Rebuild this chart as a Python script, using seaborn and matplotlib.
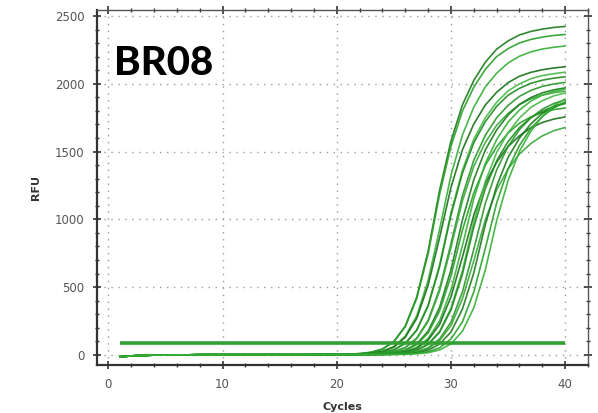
import numpy as np
import pandas as pd
import seaborn as sns
from matplotlib import pyplot as plt
from matplotlib.ticker import MultipleLocator

# cycles 1-19 look the same for every well (flat baseline)
early_cycles = list(range(1, 20))
late_cycles = list(range(20, 41))
baseline = [-14, -8, -4, -2, -1, 0, 0, 1, 1, 1, 1, 1, 1, 1, 1, 1, 1, 2, 2]

# RFU per well, cycles 20..40
rfu_a1 = [3, 5, 9, 19, 43, 99, 213, 426, 766, 1214, 1578, 1844, 2026, 2159, 2256, 2317, 2361, 2387, 2404, 2416, 2424]
rfu_a2 = [3, 5, 9, 19, 42, 97, 208, 416, 747, 1184, 1539, 1799, 1976, 2106, 2201, 2260, 2302, 2328, 2345, 2357, 2364]
rfu_a3 = [2, 4, 7, 12, 27, 61, 139, 287, 550, 926, 1326, 1622, 1828, 1976, 2079, 2154, 2204, 2236, 2257, 2270, 2279]
rfu_a4 = [2, 4, 6, 12, 25, 57, 130, 268, 513, 864, 1236, 1513, 1704, 1843, 1938, 2009, 2056, 2085, 2104, 2117, 2126]
rfu_a5 = [2, 3, 5, 8, 17, 38, 86, 184, 368, 661, 1048, 1362, 1592, 1749, 1864, 1948, 2000, 2038, 2061, 2075, 2086]
rfu_a6 = [2, 3, 4, 8, 16, 37, 84, 181, 362, 650, 1031, 1340, 1566, 1720, 1834, 1916, 1967, 2004, 2027, 2042, 2052]
rfu_b1 = [2, 2, 4, 6, 11, 24, 55, 123, 255, 487, 821, 1174, 1437, 1619, 1750, 1841, 1908, 1952, 1981, 1999, 2011]
rfu_b2 = [2, 2, 4, 6, 11, 24, 53, 119, 247, 471, 794, 1136, 1391, 1567, 1694, 1782, 1847, 1890, 1917, 1935, 1946]
rfu_b3 = [2, 2, 3, 4, 8, 16, 36, 81, 175, 350, 628, 995, 1293, 1511, 1660, 1770, 1849, 1899, 1934, 1956, 1970]
rfu_b4 = [2, 2, 3, 4, 8, 15, 33, 75, 162, 323, 581, 920, 1196, 1398, 1536, 1637, 1710, 1756, 1789, 1810, 1822]
rfu_b5 = [2, 2, 2, 4, 6, 11, 24, 54, 121, 250, 478, 806, 1153, 1411, 1589, 1718, 1807, 1873, 1917, 1944, 1962]
rfu_b6 = [2, 2, 2, 3, 6, 10, 22, 48, 109, 224, 428, 721, 1032, 1262, 1422, 1537, 1617, 1676, 1715, 1740, 1756]
rfu_c1 = [2, 2, 2, 3, 4, 8, 16, 35, 80, 173, 345, 620, 983, 1277, 1493, 1640, 1748, 1827, 1876, 1911, 1933]
rfu_c2 = [2, 2, 2, 3, 4, 8, 15, 34, 77, 166, 331, 595, 943, 1225, 1432, 1574, 1677, 1752, 1799, 1833, 1854]
rfu_c3 = [2, 2, 2, 2, 4, 6, 11, 23, 52, 117, 242, 463, 780, 1116, 1365, 1538, 1663, 1749, 1813, 1855, 1882]
rfu_c4 = [2, 2, 2, 2, 3, 5, 10, 21, 47, 105, 216, 413, 695, 995, 1218, 1372, 1483, 1560, 1616, 1654, 1678]
rfu_c5 = [2, 2, 2, 2, 3, 4, 8, 15, 35, 79, 169, 337, 605, 959, 1246, 1457, 1600, 1705, 1782, 1830, 1864]
rfu_c6 = [2, 2, 2, 2, 2, 4, 6, 11, 23, 52, 118, 243, 465, 784, 1121, 1372, 1546, 1672, 1758, 1822, 1864]
rfu_d1 = [2, 2, 2, 2, 2, 3, 4, 8, 16, 36, 81, 174, 348, 624, 990, 1286, 1503, 1651, 1760, 1839, 1888]

wells = ["A1", "A2", "A3", "A4", "A5", "A6", "B1", "B2", "B3", "B4",
         "B5", "B6", "C1", "C2", "C3", "C4", "C5", "C6", "D1"]
curves = [rfu_a1, rfu_a2, rfu_a3, rfu_a4, rfu_a5, rfu_a6, rfu_b1, rfu_b2, rfu_b3, rfu_b4,
          rfu_b5, rfu_b6, rfu_c1, rfu_c2, rfu_c3, rfu_c4, rfu_c5, rfu_c6, rfu_d1]
threshold = 85

greens = ["#1b7a1b", "#27a027", "#35b035", "#177017", "#45b845", "#208a20",
          "#2a962a", "#3aa83a"]

rows = []
for well, vals in zip(wells, curves):
    for c, v in zip(early_cycles + late_cycles, baseline + vals):
        rows.append({"well": well, "cycle": c, "rfu": v})
df = pd.DataFrame(rows)

sns.set_style("ticks")
plt.rcParams["font.family"] = ["DejaVu Sans"]

fig = plt.figure(figsize=(5.98, 4.13), dpi=100)
ax = fig.add_axes([0.1622, 0.1162, 0.8211, 0.8596])

palette = [greens[i % len(greens)] for i in range(len(wells))]
sns.lineplot(data=df, x="cycle", y="rfu", hue="well", palette=palette,
             linewidth=1.2, alpha=0.9, legend=False, ax=ax)
ax.hlines(threshold, 1, 40, color="#33a033", linewidth=2.6, zorder=5)

ax.set_xlim(-1, 42)
ax.set_ylim(-75, 2545)
ax.xaxis.set_major_locator(MultipleLocator(10))
ax.xaxis.set_minor_locator(MultipleLocator(2))
ax.yaxis.set_major_locator(MultipleLocator(500))
ax.yaxis.set_minor_locator(MultipleLocator(100))
ax.grid(True, which="major", linestyle=(0, (1, 4)), color="#9a9a9a", linewidth=1.0)

ax.tick_params(which="major", direction="inout", length=6, width=1.2, pad=6,
               top=True, right=True, labelsize=8.5, labelcolor="#555555", color="#333333")
ax.tick_params(which="minor", direction="inout", length=3, width=1.0,
               top=True, right=True, color="#333333")
for side in ["left", "bottom"]:
    ax.spines[side].set_linewidth(1.6)
    ax.spines[side].set_color("#333333")
for side in ["top", "right"]:
    ax.spines[side].set_linewidth(1.0)
    ax.spines[side].set_color("#555555")

ax.set_xlabel("Cycles", fontsize=8, fontweight="bold", color="#333333", labelpad=8)
ax.set_ylabel("RFU", fontsize=8, fontweight="bold", color="#333333", labelpad=10)

ax.text(0.5, 2150, "BR08", fontsize=29, fontweight="black", family=["Lato", "DejaVu Sans"],
        color="black", ha="left", va="center")

fig.savefig("out.png", dpi=100)
